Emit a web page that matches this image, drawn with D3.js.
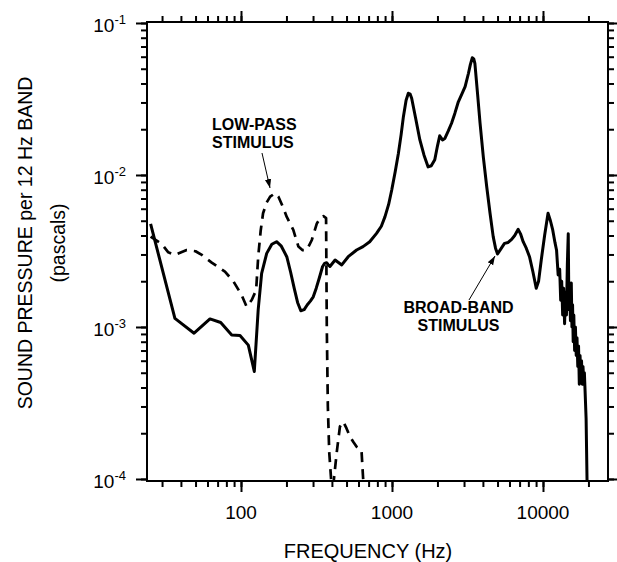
<!DOCTYPE html>
<html>
<head>
<meta charset="utf-8">
<script src="https://cdn.jsdelivr.net/npm/d3@7"></script>
<style>
  body { margin: 0; background: #fff; }
  svg text { font-family: "Liberation Sans", Arial, Helvetica, sans-serif; fill: #000; }
</style>
</head>
<body>
<div id="chart"></div>
<script>
// broad-band stimulus (solid)
const solidFreq = [25.2, 36.5, 48.9, 62.3, 73.4, 86.8, 98.5, 111.8, 122.5, 130, 137, 148, 160, 172, 185, 201, 213, 225, 237, 249, 262, 275, 288, 301, 315, 330, 347, 358, 369, 380, 388,
  420, 465, 513, 583, 643, 712, 790, 850, 899, 950, 996, 1050, 1103, 1150, 1190, 1240, 1283, 1320, 1350, 1430, 1530, 1630, 1735, 1820, 1920, 2000, 2070, 2160, 2240, 2360, 2480, 2610, 2750, 2900, 3050, 3210, 3300, 3400, 3480, 3540,
  3680, 3830, 4030, 4240, 4460, 4680, 4850, 5000, 5250, 5560, 5880, 6200, 6500, 6850, 7100, 7390, 7750, 8140, 8580, 9020, 9350, 9740, 10250, 10800, 11200, 11600, 12000,
  12300, 12600, 12900, 13100, 13300, 13500, 13700, 13900, 14100, 14300, 14500, 14700, 14850, 15000, 15200, 15400, 15550, 15700, 15850, 16000, 16200, 16400, 16600, 16800,
  17000, 17200, 17400, 17600, 17800, 18000, 18200, 18400, 18600, 18800, 19000, 19300, 19600];
const solidVal = [4.76e-3, 1.14e-3, 9.1e-4, 1.13e-3, 1.07e-3, 8.86e-4, 8.8e-4, 7.6e-4, 5.1e-4, 1.3e-3, 2.25e-3, 3.05e-3, 3.5e-3, 3.64e-3, 3.4e-3, 2.9e-3, 2.3e-3, 1.8e-3, 1.45e-3, 1.28e-3, 1.3e-3, 1.4e-3, 1.48e-3, 1.58e-3, 1.8e-3, 2.1e-3, 2.5e-3, 2.62e-3, 2.65e-3, 2.55e-3, 2.5e-3,
  2.76e-3, 2.56e-3, 2.9e-3, 3.21e-3, 3.38e-3, 3.64e-3, 4.13e-3, 4.6e-3, 5.32e-3, 6.4e-3, 7.97e-3, 1.05e-2, 1.39e-2, 1.85e-2, 2.42e-2, 3.1e-2, 3.45e-2, 3.4e-2, 3.2e-2, 2.4e-2, 1.7e-2, 1.35e-2, 1.13e-2, 1.15e-2, 1.26e-2, 1.55e-2, 1.81e-2, 1.7e-2, 1.74e-2, 1.95e-2, 2.19e-2, 2.55e-2, 3.03e-2, 3.4e-2, 3.81e-2, 4.67e-2, 5.3e-2, 5.9e-2, 5.8e-2, 5.43e-2,
  3.5e-2, 2.19e-2, 1.3e-2, 8.37e-3, 5.6e-3, 3.93e-3, 3.3e-3, 3.02e-3, 3.25e-3, 3.55e-3, 3.6e-3, 3.77e-3, 4.0e-3, 4.39e-3, 4.1e-3, 3.64e-3, 3.3e-3, 2.9e-3, 2.3e-3, 1.8e-3, 2.0e-3, 2.76e-3, 4.0e-3, 5.6e-3, 5.0e-3, 4.35e-3, 3.6e-3,
  3.2e-3, 2.2e-3, 2.4e-3, 1.5e-3, 2.0e-3, 1.2e-3, 1.8e-3, 1.05e-3, 1.7e-3, 1.2e-3, 2.6e-3, 4.1e-3, 1.3e-3, 1.9e-3, 1.1e-3, 1.95e-3, 1.0e-3, 1.4e-3, 8.0e-4, 1.2e-3, 7.0e-4, 1.0e-3, 6.5e-4, 8.5e-4,
  5.5e-4, 7.5e-4, 4.2e-4, 6.5e-4, 4.5e-4, 6.0e-4, 4.2e-4, 5.5e-4, 4.5e-4, 5.0e-4, 3.8e-4, 2.5e-4, 9.0e-5];

// low-pass stimulus (dashed), two pieces
const dashFreq = [25.2, 29.8, 33, 36.5, 43.7, 50, 55, 64, 78.3, 89, 101, 109, 118, 126, 130, 135, 140, 148, 156, 168, 177, 189, 201, 222, 240, 256, 273, 294, 318, 335, 351, 366,
  370, 376, 384, 398];
const dashVal = [3.93e-3, 3.52e-3, 3.1e-3, 2.98e-3, 3.21e-3, 3.15e-3, 2.98e-3, 2.65e-3, 2.31e-3, 2.0e-3, 1.62e-3, 1.36e-3, 1.51e-3, 1.75e-3, 2.9e-3, 4.3e-3, 5.6e-3, 6.6e-3, 7.2e-3, 7.58e-3, 7.2e-3, 6.2e-3, 5.3e-3, 4.35e-3, 3.38e-3, 3.2e-3, 3.21e-3, 3.72e-3, 4.8e-3, 5.2e-3, 5.37e-3, 5.2e-3,
  1.0e-3, 3.0e-4, 1.5e-4, 9.0e-5];
const bumpFreq = [408, 430, 452, 476, 500, 527, 555, 583, 628, 643, 650];
const bumpVal = [9.0e-5, 1.48e-4, 2.21e-4, 2.38e-4, 2.15e-4, 1.9e-4, 1.75e-4, 1.63e-4, 1.55e-4, 1.03e-4, 9.0e-5];

const xMajor = [100, 1000, 10000];
const yMajor = [1e-4, 1e-3, 1e-2, 1e-1];
const yExp = ["-4", "-3", "-2", "-1"];

const width = 617, height = 562;
const plotL = 147, plotR = 608, plotT = 22, plotB = 481;

const svg = d3.select("#chart").append("svg")
  .attr("width", width)
  .attr("height", height);

const x = d3.scaleLog().domain([23.85, 26950]).range([plotL, plotR]);
const y = d3.scaleLog().domain([9.7e-5, 0.1015]).range([plotB, plotT]);

svg.append("clipPath").attr("id", "plot")
  .append("rect")
  .attr("x", plotL).attr("y", plotT)
  .attr("width", plotR - plotL).attr("height", plotB - plotT);

// ticks on all four sides, outward
function drawAxis(axisFn, scale, tx, ty) {
  const minor = svg.append("g").attr("transform", `translate(${tx},${ty})`)
    .call(axisFn(scale).tickValues(scale.ticks()).tickSize(6).tickFormat(""));
  const major = svg.append("g").attr("transform", `translate(${tx},${ty})`)
    .call(axisFn(scale).tickValues(scale === x ? xMajor : yMajor).tickSize(11).tickFormat(""));
  [minor, major].forEach(g => {
    g.select(".domain").remove();
    g.selectAll("line").attr("stroke", "#000").attr("stroke-width", 2);
  });
}
drawAxis(d3.axisBottom, x, 0, plotB);
drawAxis(d3.axisTop, x, 0, plotT);
drawAxis(d3.axisLeft, y, plotL, 0);
drawAxis(d3.axisRight, y, plotR, 0);

svg.append("rect")
  .attr("x", plotL).attr("y", plotT)
  .attr("width", plotR - plotL).attr("height", plotB - plotT)
  .attr("fill", "none")
  .attr("stroke", "#000")
  .attr("stroke-width", 2);

// tick labels
svg.selectAll(".xlab")
  .data(xMajor)
  .enter().append("text")
  .attr("x", d => x(d))
  .attr("y", 519)
  .attr("text-anchor", "middle")
  .style("font-size", "19px")
  .text(d => d);

const yl = svg.selectAll(".ylab")
  .data(yMajor)
  .enter().append("text")
  .attr("x", 126)
  .attr("y", d => y(d) + 9)
  .attr("text-anchor", "end")
  .style("font-size", "19px");
yl.append("tspan").text("10");
yl.append("tspan").attr("dy", -8).style("font-size", "13px").text((d, i) => yExp[i]);

// axis titles
svg.append("text")
  .attr("x", 368).attr("y", 558)
  .attr("text-anchor", "middle")
  .style("font-size", "20px")
  .text("FREQUENCY (Hz)");

svg.append("text")
  .attr("transform", "translate(32,243) rotate(-90)")
  .attr("text-anchor", "middle")
  .style("font-size", "19.5px")
  .text("SOUND PRESSURE per 12 Hz BAND");

svg.append("text")
  .attr("transform", "translate(65,243) rotate(-90)")
  .attr("text-anchor", "middle")
  .style("font-size", "19.5px")
  .text("(pascals)");

// curves
const line = d3.line()
  .x(d => x(d[0]))
  .y(d => y(d[1]));

const plot = svg.append("g").attr("clip-path", "url(#plot)");

plot.append("path")
  .datum(solidFreq.map((f, i) => [f, solidVal[i]]))
  .attr("d", line)
  .attr("fill", "none")
  .attr("stroke", "#000")
  .attr("stroke-width", 3)
  .attr("stroke-linejoin", "round");

[[dashFreq, dashVal], [bumpFreq, bumpVal]].forEach(([fs, vs]) => {
  plot.append("path")
    .datum(fs.map((f, i) => [f, vs[i]]))
    .attr("d", line)
    .attr("fill", "none")
    .attr("stroke", "#000")
    .attr("stroke-width", 2.7)
    .attr("stroke-linejoin", "round")
    .attr("stroke-dasharray", "10,7");
});

// annotations
svg.append("defs").append("marker")
  .attr("id", "arrow")
  .attr("viewBox", "0 0 10 10")
  .attr("refX", 10).attr("refY", 5)
  .attr("markerWidth", 9).attr("markerHeight", 9)
  .attr("markerUnits", "userSpaceOnUse")
  .attr("orient", "auto")
  .append("path")
  .attr("d", "M0,1.5L10,5L0,8.5Z")
  .attr("fill", "#000");

function note(lines, tx, ty, anchor) {
  const t = svg.append("text")
    .attr("text-anchor", anchor)
    .style("font-size", "16px")
    .style("font-weight", "bold");
  lines.forEach((s, i) => t.append("tspan").attr("x", tx).attr("y", ty + i * 18).text(s));
}
note(["LOW-PASS", "STIMULUS"], 212, 130, "start");
note(["BROAD-BAND", "STIMULUS"], 458.5, 313, "middle");

svg.append("line")
  .attr("x1", 262).attr("y1", 153).attr("x2", 270).attr("y2", 188)
  .attr("stroke", "#000").attr("stroke-width", 1)
  .attr("marker-end", "url(#arrow)");

svg.append("line")
  .attr("x1", 469).attr("y1", 300).attr("x2", 495).attr("y2", 256)
  .attr("stroke", "#000").attr("stroke-width", 1)
  .attr("marker-end", "url(#arrow)");
</script>
</body>
</html>
